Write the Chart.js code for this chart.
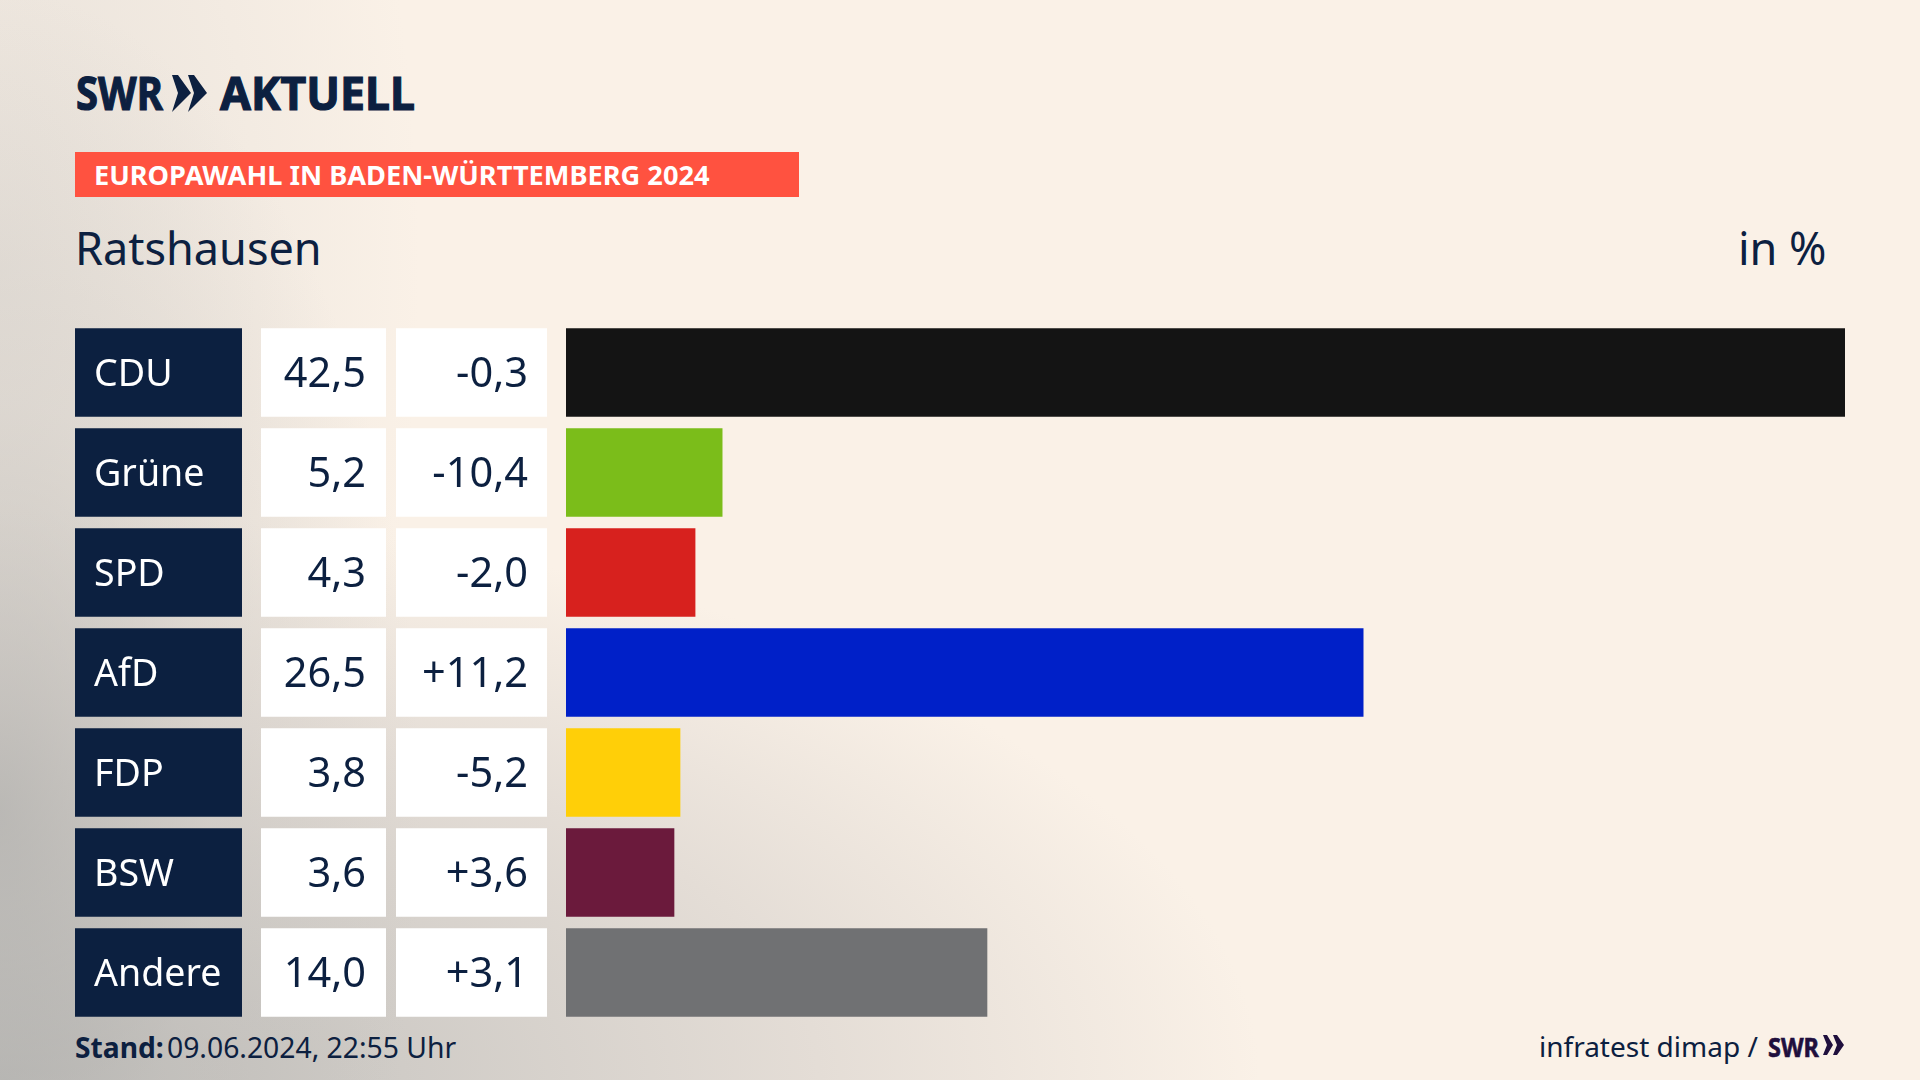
<!DOCTYPE html>
<html lang="de">
<head>
<meta charset="utf-8">
<title>Europawahl in Baden-Württemberg 2024 - Ratshausen</title>
<script src="https://cdn.jsdelivr.net/npm/chart.js@4"></script>
<style>
  html, body { margin: 0; padding: 0; width: 1920px; height: 1080px; overflow: hidden; }
  body {
    position: relative;
    background-color: #faf1e7;
    background-image:
      radial-gradient(ellipse 420px 820px at 0% 75%, rgba(170,170,168,.65) 0%, rgba(195,192,188,.35) 50%, rgba(250,241,231,0) 100%),
      radial-gradient(ellipse 1260px 570px at 0% 100%, #b8b7b4 0%, #d0ccc7 32%, #e4ddd6 65%, rgba(250,241,231,0) 100%),
      radial-gradient(ellipse 420px 900px at 0% 25%, rgba(214,210,205,.5) 0%, rgba(250,241,231,0) 100%);
    font-family: "Noto Sans", sans-serif;
    color: #0c2040;
  }
  canvas { position: absolute; left: 0; top: 0; }
  .txt { position: absolute; white-space: nowrap; line-height: 1; transform-origin: left top; }
  .logo { font: bold 47px "Noto Sans"; -webkit-text-stroke: 1.2px #0c2040; }
  #tag { position: absolute; left: 75px; top: 152px; width: 724px; height: 45px; background: #ff5240; }
  svg { position: absolute; }
</style>
</head>
<body>
<div class="txt logo" style="left:76px;top:60px;transform:scaleX(.85)">SWR</div>
<svg style="left:172px;top:75px" width="36" height="37" viewBox="0 0 36 37"><path fill="#0c2040" d="M0 0h6l13 18L0 37l6-19zM16 0h6l13 18-19 19 6-19z"/></svg>
<div class="txt logo" style="left:220px;top:60px;transform:scaleX(.95)">AKTUELL</div>
<div id="tag"></div>
<div class="txt" style="left:94px;top:156px;font:bold 27.2px 'Noto Sans';color:#fff">EUROPAWAHL IN BADEN-WÜRTTEMBERG 2024</div>
<div class="txt" style="left:75px;top:217px;font:45px 'Noto Sans'">Ratshausen</div>
<div class="txt" style="left:1738px;top:217px;font:45px 'Noto Sans'">in %</div>
<div class="txt" style="left:75px;top:1028px;font:bold 28.2px 'Noto Sans'">Stand:</div>
<div class="txt" style="left:167px;top:1028px;font:28.3px 'Noto Sans'">09.06.2024, 22:55 Uhr</div>
<div class="txt" style="left:1539px;top:1027px;font:28px 'Noto Sans'">infratest dimap /</div>
<div class="txt" style="left:1768px;top:1029px;font:bold 26px 'Noto Sans';color:#1f0f3d;-webkit-text-stroke:.6px #1f0f3d;transform:scaleX(.9)">SWR</div>
<svg style="left:1823px;top:1035px" width="21" height="20" viewBox="0 0 21 20"><path fill="#1f0f3d" d="M0 0h4l6 10-6 10H0l4-10zM10 0h4l7 10-7 10h-4l4-10z"/></svg>
<canvas id="chart" width="1920" height="1080"></canvas>
<script>
var parties = ['CDU', 'Grüne', 'SPD', 'AfD', 'FDP', 'BSW', 'Andere'];
var results = [42.5, 5.2, 4.3, 26.5, 3.8, 3.6, 14.0];
var changes = [-0.3, -10.4, -2.0, 11.2, -5.2, 3.6, 3.1];
var partyColors = ['#141414', '#7bbd1a', '#d7211e', '#0020c8', '#ffcf08', '#6b1a3c', '#707173'];

function comma(v) {
    return Math.abs(v).toFixed(1).replace('.', ',');
}

function signed(v) {
    return (v < 0 ? '-' : '+') + comma(v);
}

// navy party box and the two white number boxes left of each bar
var rowBoxes = {
    id: 'rowBoxes',
    beforeDraw: function (chart) {
        var ctx = chart.ctx;
        var bars = chart.getDatasetMeta(0).data;
        ctx.save();
        bars.forEach(function (bar) {
            var top = bar.y - bar.height / 2;
            ctx.fillStyle = '#0c2040';
            ctx.fillRect(75, top, 167, bar.height);
            ctx.fillStyle = '#ffffff';
            ctx.fillRect(261, top, 125, bar.height);
            ctx.fillRect(396, top, 151, bar.height);
        });
        ctx.restore();
    },
    afterDatasetsDraw: function (chart) {
        var ctx = chart.ctx;
        var y = chart.scales.y;
        ctx.save();
        ctx.font = '41.5px "Noto Sans"';
        ctx.fillStyle = '#0c2040';
        ctx.textAlign = 'right';
        ctx.textBaseline = 'middle';
        parties.forEach(function (p, i) {
            var py = y.getPixelForValue(i) + 2.5;
            ctx.fillText(comma(results[i]), 366, py);
            ctx.fillText(signed(changes[i]), 528, py);
        });
        ctx.restore();
    }
};

new Chart(document.getElementById('chart').getContext('2d'), {
    type: 'bar',
    data: {
        labels: parties,
        datasets: [{
            data: results,
            backgroundColor: partyColors,
            borderWidth: 0,
            barPercentage: 0.885,
            categoryPercentage: 1
        }]
    },
    options: {
        indexAxis: 'y',
        responsive: false,
        animation: false,
        devicePixelRatio: 1,
        layout: { padding: { left: 94, right: 75, top: 322.5, bottom: 57.5 } },
        plugins: { legend: { display: false }, tooltip: { enabled: false } },
        scales: {
            x: { display: false, min: 0, max: 42.5 },
            y: {
                afterFit: function (scale) { scale.width = 472; },
                grid: { display: false },
                border: { display: false },
                ticks: {
                    crossAlign: 'far',
                    labelOffset: 3,
                    color: '#ffffff',
                    font: { family: '"Noto Sans"', size: 37.6 }
                }
            }
        }
    },
    plugins: [rowBoxes]
});
</script>
</body>
</html>
